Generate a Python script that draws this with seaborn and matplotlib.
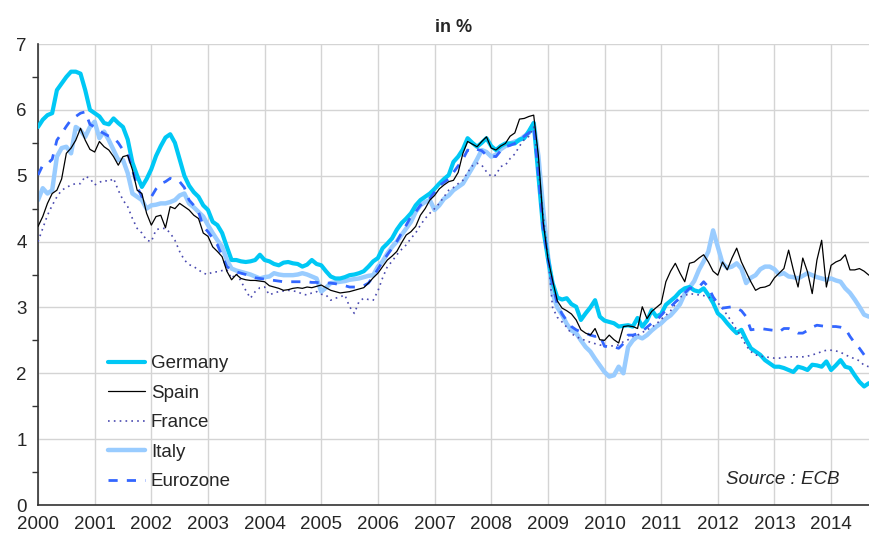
import numpy as np
import pandas as pd
import seaborn as sns
import matplotlib.pyplot as plt
from matplotlib.ticker import MultipleLocator

# Monthly values, Jan 2000 - Sep 2014 (in %)
germany = [
    5.74, 5.85, 5.92, 5.95, 6.30, 6.40, 6.50, 6.58, 6.58, 6.55, 6.30, 6.00,
    5.95, 5.90, 5.80, 5.78, 5.87, 5.80, 5.74, 5.55, 5.20, 5.00, 4.83, 4.95,
    5.10, 5.30, 5.45, 5.58, 5.63, 5.50, 5.25, 5.00, 4.85, 4.75, 4.68, 4.55,
    4.48, 4.30, 4.25, 4.13, 3.92, 3.72, 3.72, 3.70, 3.69, 3.70, 3.72, 3.80,
    3.72, 3.70, 3.66, 3.64, 3.68, 3.69, 3.67, 3.66, 3.62, 3.65, 3.72, 3.66,
    3.64, 3.55, 3.47, 3.44, 3.44, 3.46, 3.49, 3.50, 3.52, 3.55, 3.62, 3.70,
    3.75, 3.90, 3.97, 4.05, 4.18, 4.28, 4.35, 4.43, 4.55, 4.63, 4.68, 4.73,
    4.80, 4.88, 4.95, 5.01, 5.21, 5.29, 5.40, 5.57, 5.50, 5.44, 5.50, 5.57,
    5.45, 5.39, 5.45, 5.49, 5.49, 5.49, 5.55, 5.57, 5.68, 5.80, 5.00, 4.20,
    3.75, 3.37, 3.15, 3.12, 3.14, 3.05, 3.01, 2.81, 2.91, 3.00, 3.11, 2.86,
    2.80, 2.78, 2.76, 2.71, 2.72, 2.73, 2.71, 2.84, 2.71, 2.80, 2.96, 2.86,
    2.90, 3.04, 3.10, 3.16, 3.24, 3.29, 3.31, 3.26, 3.24, 3.29, 3.19, 3.07,
    2.91, 2.85, 2.76, 2.68, 2.61, 2.66, 2.51, 2.38, 2.33, 2.28, 2.20, 2.15,
    2.10, 2.10, 2.08, 2.05, 2.02, 2.10, 2.08, 2.05, 2.13, 2.12, 2.10, 2.18,
    2.05, 2.12, 2.20, 2.10, 2.08, 1.97, 1.87, 1.80, 1.85,
]
spain = [
    4.23, 4.38, 4.58, 4.73, 4.78, 4.95, 5.34, 5.42, 5.54, 5.72, 5.54, 5.40,
    5.36, 5.52, 5.44, 5.39, 5.29, 5.16, 5.29, 5.31, 5.09, 4.78, 4.73, 4.43,
    4.25, 4.38, 4.40, 4.21, 4.53, 4.50, 4.58, 4.53, 4.48, 4.40, 4.35, 4.13,
    4.08, 3.92, 3.85, 3.77, 3.55, 3.42, 3.50, 3.44, 3.42, 3.41, 3.41, 3.40,
    3.39, 3.33, 3.31, 3.29, 3.26, 3.27, 3.29, 3.30, 3.29, 3.31, 3.30, 3.32,
    3.34, 3.30, 3.26, 3.24, 3.22, 3.23, 3.24, 3.26, 3.28, 3.30, 3.37, 3.45,
    3.52, 3.62, 3.72, 3.78, 3.85, 3.98, 4.10, 4.15, 4.23, 4.40, 4.50, 4.63,
    4.70, 4.80, 4.86, 4.91, 4.93, 5.05, 5.34, 5.52, 5.48, 5.44, 5.52, 5.59,
    5.42, 5.39, 5.45, 5.49, 5.60, 5.65, 5.86, 5.87, 5.90, 5.92, 5.30, 4.30,
    3.75, 3.41, 3.10, 2.99, 2.95, 2.90, 2.81, 2.66, 2.61, 2.58, 2.68, 2.51,
    2.50, 2.58, 2.51, 2.46, 2.71, 2.72, 2.71, 2.68, 3.01, 2.83, 2.94, 3.00,
    3.06, 3.39, 3.55, 3.67, 3.52, 3.39, 3.67, 3.69, 3.75, 3.80, 3.69, 3.55,
    3.49, 3.69, 3.57, 3.75, 3.90, 3.69, 3.54, 3.39, 3.26, 3.30, 3.31, 3.34,
    3.45, 3.52, 3.59, 3.87, 3.57, 3.31, 3.75, 3.54, 3.21, 3.72, 4.02, 3.31,
    3.64, 3.69, 3.72, 3.80, 3.57, 3.57, 3.59, 3.55, 3.49,
]
france = [
    4.00, 4.20, 4.40, 4.55, 4.68, 4.78, 4.82, 4.86, 4.88, 4.88, 4.99, 4.96,
    4.86, 4.90, 4.93, 4.91, 4.96, 4.78, 4.63, 4.53, 4.35, 4.20, 4.13, 4.02,
    4.00, 4.18, 4.20, 4.20, 4.13, 4.02, 3.85, 3.72, 3.65, 3.62, 3.57, 3.52,
    3.50, 3.54, 3.54, 3.56, 3.57, 3.44, 3.52, 3.40, 3.26, 3.14, 3.24, 3.30,
    3.31, 3.19, 3.22, 3.24, 3.25, 3.26, 3.25, 3.24, 3.20, 3.19, 3.22, 3.24,
    3.20, 3.19, 3.11, 3.14, 3.16, 3.19, 3.01, 2.91, 3.09, 3.14, 3.12, 3.11,
    3.25, 3.45, 3.62, 3.70, 3.80, 3.88, 3.95, 4.05, 4.13, 4.25, 4.35, 4.43,
    4.50, 4.58, 4.68, 4.78, 4.82, 4.88, 4.93, 5.05, 5.15, 5.19, 5.16, 5.06,
    4.99, 5.01, 5.14, 5.16, 5.26, 5.33, 5.45, 5.55, 5.60, 5.74, 5.10, 4.40,
    3.80, 3.00, 2.85, 2.78, 2.70, 2.60, 2.56, 2.52, 2.50, 2.47, 2.45, 2.43,
    2.42, 2.41, 2.42, 2.43, 2.48, 2.51, 2.56, 2.58, 2.62, 2.66, 2.70, 2.75,
    2.82, 2.88, 2.95, 3.05, 3.16, 3.18, 3.21, 3.20, 3.19, 3.18, 3.16, 3.12,
    3.07, 2.99, 2.88, 2.78, 2.66, 2.55, 2.42, 2.33, 2.28, 2.26, 2.25, 2.24,
    2.23, 2.23, 2.24, 2.25, 2.25, 2.25, 2.25, 2.26, 2.28, 2.30, 2.33, 2.35,
    2.35, 2.34, 2.32, 2.28, 2.25, 2.22, 2.19, 2.12, 2.10,
]
italy = [
    4.63, 4.81, 4.73, 4.78, 5.29, 5.42, 5.44, 5.34, 5.74, 5.69, 5.59, 5.74,
    5.82, 5.57, 5.67, 5.54, 5.39, 5.24, 5.24, 5.04, 4.73, 4.68, 4.63, 4.50,
    4.55, 4.56, 4.58, 4.58, 4.60, 4.63, 4.70, 4.73, 4.58, 4.52, 4.45, 4.38,
    4.25, 4.13, 4.02, 3.92, 3.72, 3.59, 3.56, 3.54, 3.52, 3.50, 3.47, 3.44,
    3.46, 3.47, 3.52, 3.50, 3.49, 3.49, 3.49, 3.50, 3.52, 3.50, 3.47, 3.44,
    3.24, 3.30, 3.37, 3.38, 3.39, 3.40, 3.42, 3.43, 3.44, 3.46, 3.48, 3.49,
    3.62, 3.70, 3.82, 3.92, 4.00, 4.10, 4.20, 4.30, 4.45, 4.55, 4.60, 4.63,
    4.48, 4.55, 4.65, 4.70, 4.78, 4.83, 4.88, 5.00, 5.12, 5.25, 5.39, 5.36,
    5.29, 5.32, 5.40, 5.45, 5.49, 5.52, 5.54, 5.60, 5.65, 5.80, 5.30, 4.50,
    3.80, 3.21, 3.00, 2.89, 2.75, 2.65, 2.61, 2.50, 2.40, 2.33, 2.22, 2.12,
    2.02, 1.95, 1.97, 2.10, 2.00, 2.40, 2.50, 2.56, 2.53, 2.58, 2.65, 2.71,
    2.76, 2.83, 2.88, 2.96, 3.05, 3.21, 3.30, 3.40, 3.57, 3.70, 3.85, 4.17,
    3.92, 3.67, 3.60, 3.62, 3.67, 3.59, 3.37, 3.45, 3.49, 3.58, 3.62, 3.62,
    3.58, 3.50, 3.52, 3.47, 3.46, 3.44, 3.48, 3.52, 3.49, 3.46, 3.44, 3.42,
    3.44, 3.41, 3.39, 3.29, 3.22, 3.12, 3.01, 2.89, 2.86,
]
eurozone = [
    5.01, 5.16, 5.18, 5.25, 5.54, 5.64, 5.75, 5.85, 5.90, 5.95, 5.97, 5.78,
    5.74, 5.68, 5.64, 5.60, 5.58, 5.50, 5.39, 5.34, 5.09, 4.83, 4.68, 4.68,
    4.68, 4.80, 4.88, 4.91, 4.96, 4.93, 4.91, 4.82, 4.63, 4.55, 4.45, 4.23,
    4.15, 4.05, 3.95, 3.78, 3.62, 3.57, 3.54, 3.52, 3.50, 3.47, 3.45, 3.44,
    3.43, 3.42, 3.41, 3.40, 3.39, 3.39, 3.39, 3.39, 3.39, 3.39, 3.38, 3.38,
    3.37, 3.37, 3.37, 3.36, 3.34, 3.33, 3.31, 3.31, 3.31, 3.33, 3.37, 3.47,
    3.58, 3.70, 3.80, 3.90, 4.00, 4.13, 4.25, 4.38, 4.45, 4.55, 4.60, 4.66,
    4.75, 4.85, 4.90, 4.95, 5.05, 5.15, 5.25, 5.39, 5.36, 5.40, 5.38, 5.31,
    5.30, 5.29, 5.38, 5.44, 5.46, 5.49, 5.54, 5.60, 5.65, 5.74, 5.00, 4.20,
    3.75, 3.35, 3.05, 2.90, 2.80, 2.71, 2.66, 2.63, 2.61, 2.58, 2.56, 2.58,
    2.41, 2.40, 2.40, 2.38, 2.45, 2.58, 2.58, 2.60, 2.64, 2.70, 2.76, 2.80,
    2.88, 2.96, 3.01, 3.08, 3.15, 3.22, 3.29, 3.30, 3.31, 3.39, 3.31, 3.16,
    3.06, 2.99, 3.00, 3.01, 2.99, 2.95, 2.86, 2.66, 2.67, 2.68, 2.67, 2.66,
    2.65, 2.63, 2.68, 2.68, 2.65, 2.61, 2.61, 2.65, 2.70, 2.73, 2.72, 2.71,
    2.71, 2.71, 2.70, 2.68, 2.56, 2.46, 2.38, 2.28, 2.30,
]

year_ticks = list(range(2000, 2015))

months = np.arange(len(germany))
df = pd.DataFrame({
    "date": 2000 + months / 12,
    "Germany": germany,
    "Spain": spain,
    "France": france,
    "Italy": italy,
    "Eurozone": eurozone,
})

sns.set_style("white")
plt.rcParams["font.family"] = ["Liberation Sans", "DejaVu Sans"]

fig = plt.figure(figsize=(8.7, 5.4), dpi=100)
ax = fig.add_axes([0.0437, 0.0648, 0.955, 0.8537])

# draw order (bottom to top) with style per series
styles = {
    "Italy": dict(color="#99ccff", linewidth=3.2, linestyle="-", zorder=2),
    "Germany": dict(color="#00c8f5", linewidth=3.0, linestyle="-", zorder=3),
    "France": dict(color="#4a4ab0", linewidth=1.2, linestyle=(0, (1, 2.5)), zorder=4),
    "Eurozone": dict(color="#3366ff", linewidth=2.0, linestyle=(0, (3.3, 3.3)), zorder=5),
    "Spain": dict(color="black", linewidth=0.9, linestyle="-", zorder=6),
}
lines = {}
for name, st in styles.items():
    sns.lineplot(data=df, x="date", y=name, ax=ax, label=name, **st)
    lines[name] = ax.get_lines()[-1]

ax.set_xlim(2000, 2000 + (len(germany) - 1) / 12)
ax.set_ylim(0, 7)
ax.set_xticks(year_ticks)
ax.set_xticklabels([str(y) for y in year_ticks])
ax.yaxis.set_major_locator(MultipleLocator(1))
ax.yaxis.set_minor_locator(MultipleLocator(0.5))
ax.set_xlabel("")
ax.set_ylabel("")

ax.grid(True, which="major", color="#d4d4d4", linewidth=1.0)
ax.set_axisbelow(True)
for side in ["top", "right"]:
    ax.spines[side].set_visible(False)
for side in ["left", "bottom"]:
    ax.spines[side].set_color("#333333")
    ax.spines[side].set_linewidth(1.2)

ax.tick_params(axis="both", which="major", direction="out", length=5, width=1,
               color="#333333", labelsize=13.5, pad=3)
ax.tick_params(axis="y", which="minor", direction="out", length=4, width=1,
               color="#333333", left=True)

ax.set_title("in %", fontsize=13, fontweight="bold", pad=9)

order = ["Germany", "Spain", "France", "Italy", "Eurozone"]
ax.legend([lines[n] for n in order], order, loc="lower left",
          bbox_to_anchor=(0.084, 0.032), frameon=False, fontsize=13.5,
          handlelength=2.0, handletextpad=0.3, labelspacing=0.66,
          borderpad=0, borderaxespad=0)

ax.text(0.965, 0.055, "Source : ECB", transform=ax.transAxes, ha="right",
        va="center", fontsize=13.5, fontstyle="italic")

fig.savefig("out.png", dpi=100)
